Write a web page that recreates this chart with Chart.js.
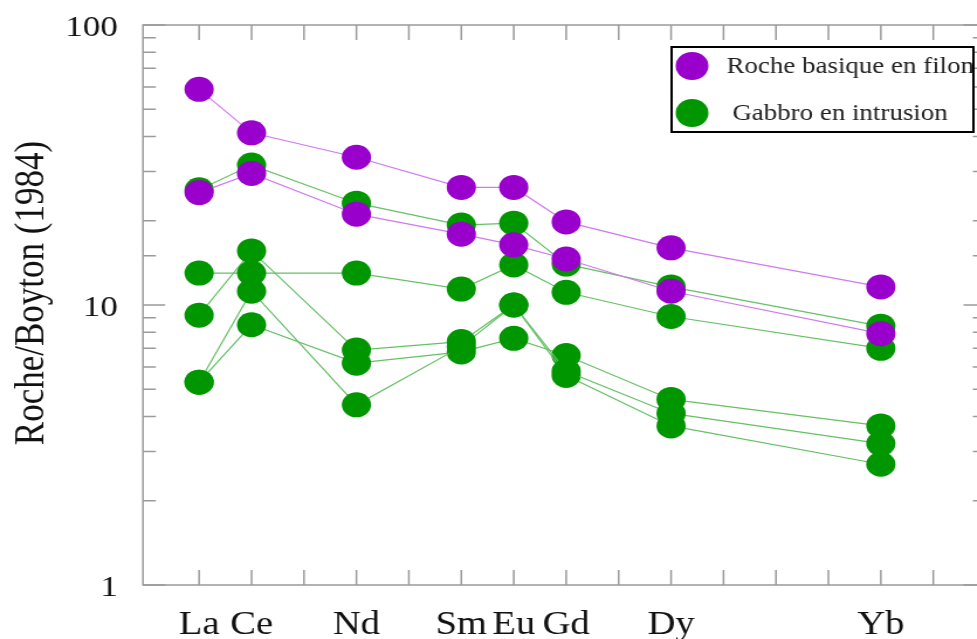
<!DOCTYPE html>
<html>
<head>
<meta charset="utf-8">
<script src="https://cdn.jsdelivr.net/npm/chart.js@4/dist/chart.umd.min.js"></script>
<style>
  html, body { margin: 0; padding: 0; background: #fff; overflow: hidden; width: 977px; height: 639px; }
  /* the picture is stretched sideways, so the whole chart is too */
  #wrap { width: 855px; height: 639px; transform: scaleX(1.17); transform-origin: 0 0; }
</style>
</head>
<body>
<div id="wrap"><canvas id="chart" width="855" height="639"></canvas></div>
<script>
// --- DATA ---
const elements = ['La', 'Ce', 'Pr', 'Nd', 'Pm', 'Sm', 'Eu', 'Gd', 'Tb', 'Dy', 'Ho', 'Er', 'Tm', 'Yb', 'Lu'];
const shownLabels = ['La', 'Ce', '', 'Nd', '', 'Sm', 'Eu', 'Gd', '', 'Dy', '', '', '', 'Yb', ''];
const plotted = ['La', 'Ce', 'Nd', 'Sm', 'Eu', 'Gd', 'Dy', 'Yb'];
const yTickLabels = [1, 10, 100];
const yTitle = 'Roche/Boyton (1984)';

// Roche basique en filon
const filon1 = [58.9, 41.2, 33.7, 26.3, 26.3, 19.8, 16.0, 11.6];
const filon2 = [25.2, 29.5, 21.1, 17.9, 16.4, 14.6, 11.2, 7.9];

// Gabbro en intrusion
const gabbro1 = [25.8, 31.6, 23.1, 19.3, 19.6, 14.0, 11.6, 8.4];
const gabbro2 = [13.0, 13.0, 13.0, 11.4, 13.9, 11.1, 9.1, 7.0];
const gabbro3 = [9.2, 15.6, 6.9, 7.4, 10.0, 5.8, 4.1, 3.2];
const gabbro4 = [5.3, 11.2, 4.4, 7.1, 10.0, 5.6, 3.7, 2.7];
const gabbro5 = [5.3, 8.5, 6.2, 6.8, 7.6, 6.6, 4.6, 3.7];

const legendLabels = ['Roche basique en filon', 'Gabbro en intrusion'];

const PURPLE = '#9900cc', PURPLE_LINE = '#cf7aee';
const GREEN = '#009600', GREEN_LINE = '#66c066';
const SERIF = '"Liberation Serif", serif';

const toPoints = (vals) => vals.map((v, i) => ({ x: elements.indexOf(plotted[i]), y: v }));

function makeSet(vals, fill, line) {
    return {
        data: toPoints(vals),
        showLine: true,
        borderColor: line,
        borderWidth: 1.2,
        backgroundColor: fill,
        pointBackgroundColor: fill,
        pointBorderWidth: 0,
        pointRadius: 12.5,
        pointHoverRadius: 12.5,
        tension: 0
    };
}

// first dataset is drawn on top, so purple goes first
const datasets = [
    makeSet(filon1, PURPLE, PURPLE_LINE),
    makeSet(filon2, PURPLE, PURPLE_LINE),
    makeSet(gabbro1, GREEN, GREEN_LINE),
    makeSet(gabbro2, GREEN, GREEN_LINE),
    makeSet(gabbro3, GREEN, GREEN_LINE),
    makeSet(gabbro4, GREEN, GREEN_LINE),
    makeSet(gabbro5, GREEN, GREEN_LINE)
];

// --- FRAME + INWARD TICKS + Y TITLE ---
const frameTicks = {
    id: 'frameTicks',
    beforeDatasetsDraw(chart) {
        const { ctx, chartArea: a, scales: { x, y } } = chart;
        ctx.save();
        ctx.strokeStyle = '#9a9a9a';
        ctx.lineWidth = 1.5;
        ctx.strokeRect(a.left, a.top, a.right - a.left, a.bottom - a.top);
        ctx.beginPath();
        y.ticks.forEach(t => {
            const py = y.getPixelForValue(t.value);
            const len = yTickLabels.includes(t.value) ? 19 : 11;
            ctx.moveTo(a.left, py); ctx.lineTo(a.left + len, py);
            ctx.moveTo(a.right, py); ctx.lineTo(a.right - len, py);
        });
        x.ticks.forEach(t => {
            const px = x.getPixelForValue(t.value);
            ctx.moveTo(px, a.bottom); ctx.lineTo(px, a.bottom - 15);
            ctx.moveTo(px, a.top); ctx.lineTo(px, a.top + 15);
        });
        ctx.stroke();

        // axis title sits a bit above the middle in the original
        ctx.translate(36.8, 293);
        ctx.rotate(-Math.PI / 2);
        ctx.font = '35px ' + SERIF;
        ctx.fillStyle = '#111';
        ctx.textAlign = 'center';
        ctx.textBaseline = 'alphabetic';
        ctx.fillText(yTitle, 0, 0);
        ctx.restore();
    }
};

// --- LEGEND BOX (inside plot, top right) ---
const boxLegend = {
    id: 'boxLegend',
    afterDraw(chart) {
        const { ctx } = chart;
        const bx = 574, by = 47, bw = 258, bh = 85;
        ctx.save();
        ctx.fillStyle = '#fff';
        ctx.fillRect(bx, by, bw, bh);
        ctx.strokeStyle = '#000';
        ctx.lineWidth = 2;
        ctx.strokeRect(bx, by, bw, bh);
        const rows = [
            { color: PURPLE, y: by + 19, tx: bx + 47 },
            { color: GREEN, y: by + 66, tx: bx + 52 }
        ];
        ctx.font = '23px ' + SERIF;
        ctx.textBaseline = 'middle';
        rows.forEach((r, i) => {
            ctx.fillStyle = r.color;
            ctx.beginPath();
            ctx.arc(bx + 17.5, r.y, 14, 0, Math.PI * 2);
            ctx.fill();
            ctx.fillStyle = '#222';
            ctx.fillText(legendLabels[i], r.tx, r.y + 1);
        });
        ctx.restore();
    }
};

new Chart(document.getElementById('chart'), {
    type: 'scatter',
    data: { datasets },
    plugins: [frameTicks, boxLegend],
    options: {
        responsive: false,
        animation: false,
        events: [],
        layout: { padding: { top: 25, right: 4, left: 0, bottom: 0 } },
        plugins: { legend: { display: false }, tooltip: { enabled: false } },
        scales: {
            x: {
                type: 'linear',
                min: -1.07,
                max: 15,
                grid: { display: false, drawTicks: false },
                border: { display: false },
                afterBuildTicks: (scale) => { scale.ticks = elements.map((_, i) => ({ value: i })); },
                afterFit: (scale) => { scale.height = 54; },
                ticks: {
                    autoSkip: false,
                    maxRotation: 0,
                    padding: 21,
                    color: '#111',
                    font: { family: SERIF, size: 33 },
                    callback: (v) => shownLabels[v] || ''
                }
            },
            y: {
                type: 'logarithmic',
                min: 1,
                max: 100,
                grid: { display: false, drawTicks: false },
                border: { display: false },
                afterFit: (scale) => {
                    scale.width = 122.2;
                    scale.paddingTop = 0;
                    scale.paddingBottom = 0;
                },
                ticks: {
                    autoSkip: false,
                    padding: 21.5,
                    labelOffset: 3,
                    color: '#111',
                    font: { family: SERIF, size: 30 },
                    callback: (v) => yTickLabels.includes(v) ? String(v) : ''
                }
            }
        }
    }
});
</script>
</body>
</html>
